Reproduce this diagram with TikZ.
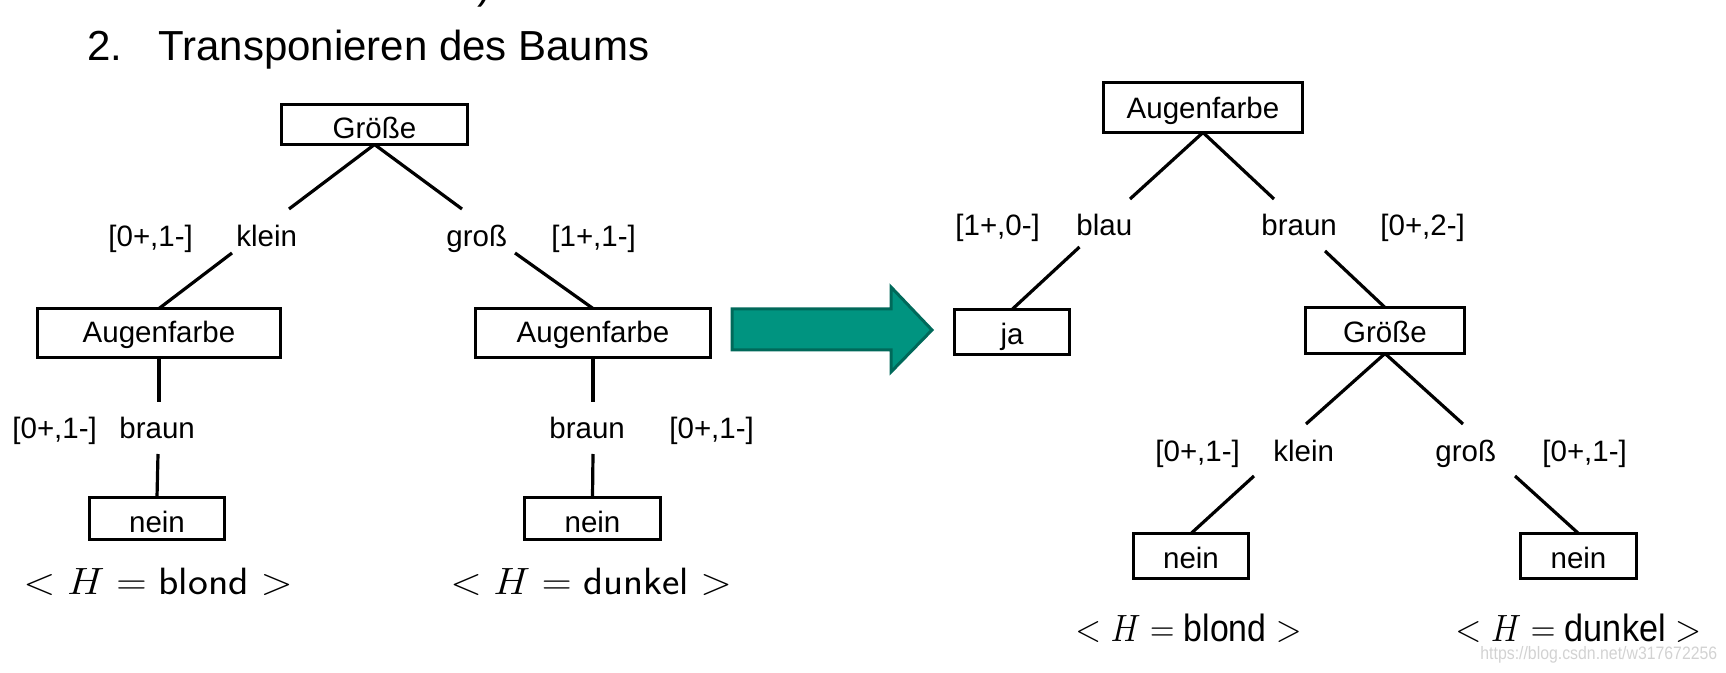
\RequirePackage{fix-cm}
\documentclass[tikz,border=0pt]{standalone}
\usepackage{fontspec}
\setmainfont{Liberation Sans}
\usepackage{graphicx}
\definecolor{arrowfill}{HTML}{009480}
\definecolor{arrowdraw}{HTML}{00695A}
\definecolor{wmgray}{HTML}{D2D2D2}
\begin{document}
\begin{tikzpicture}[x=0.5pt,y=-0.5pt,
  box/.style={draw, line width=1.7pt, inner sep=0pt, outer sep=0pt, anchor=south west, font=\fontsize{14.75}{17}\selectfont},
  lbl/.style={inner sep=0pt, anchor=base west, font=\fontsize{14.75}{17}\selectfont},
  edge/.style={line width=1.6pt},
  mth/.style={inner sep=0pt, anchor=base west, font=\fontsize{19}{22}\selectfont},
  ttl/.style={inner sep=0pt, anchor=base west, font=\fontsize{21}{25}\selectfont}
]
\useasboundingbox (0,0) rectangle (1726,673);

% title
\node[ttl] (frag) at (477,-1) {)};
\node[ttl] (tnum) at (87,61) {2.};
\node[ttl] (ttext) at (158,61) {Transponieren des Baums};

% ---------- left trees ----------
\node[box, minimum width=93pt, text depth=2.75pt, text height=17.25pt] (gL) at (281.5,144.5) {Größe};
\node[box, minimum width=121.5pt, text depth=7.25pt, text height=17.25pt] (aL) at (37.5,357.5) {Augenfarbe};
\node[box, minimum width=117.5pt, text depth=7.25pt, text height=17.25pt] (aR) at (475.5,357.5) {Augenfarbe};
\node[box, minimum width=67.5pt, text depth=3.25pt, text height=17.75pt] (nL) at (89.5,539.5) {nein};
\node[box, minimum width=68pt, text depth=3.25pt, text height=17.75pt] (nR) at (524.5,539.5) {nein};

\node[lbl] (l1) at (108,247) {[0+,1-]};
\node[lbl] (l2) at (236,247) {klein};
\node[lbl] (l3) at (446,247) {groß};
\node[lbl] (l4) at (551,247) {[1+,1-]};
\node[lbl] (l5) at (12,439) {[0+,1-]};
\node[lbl] (l6) at (119,439) {braun};
\node[lbl] (l7) at (549,439) {braun};
\node[lbl] (l8) at (669,439) {[0+,1-]};

\coordinate (a1) at (289,209);
\coordinate (a2) at (232,253);
\coordinate (b1) at (462,209);
\coordinate (b2) at (515,253);
\coordinate (c1) at (159,402);
\coordinate (c2) at (158,454);
\coordinate (d1) at (593,402);
\coordinate (d2) at (593,454);

\draw[edge] (gL.south) -- (a1);
\draw[edge] (a2) -- (aL.north);
\draw[edge] (gL.south) -- (b1);
\draw[edge] (b2) -- (aR.north);
\draw[edge] (aL.south) -- (c1);
\draw[edge] (c2) -- (nL.north);
\draw[edge] (aR.south) -- (d1);
\draw[edge] (d2) -- (nR.north);

\node[mth] (m1) at (23,595) {\scalebox{1.11}[1]{$<H=\mathsf{blond}>$}};
\node[mth] (m2) at (450,595) {\scalebox{1.09}[1]{$<H=\mathsf{dunkel}>$}};

% ---------- arrow ----------
\draw[line width=1.5pt, draw=arrowdraw, fill=arrowfill, line join=miter]
  (732,309) -- (891,309) -- (891,287) -- (932,330) -- (891,372) -- (891,350) -- (732,350) -- cycle;

% ---------- right tree ----------
\node[box, minimum width=99.5pt, text depth=6.75pt, text height=18.25pt] (A) at (1103.5,132.5) {Augenfarbe};
\node[box, minimum width=57.5pt, text depth=4.75pt, text height=17.75pt] (ja) at (954.5,354.5) {ja};
\node[box, minimum width=79.5pt, text depth=5.25pt, text height=17.75pt] (G) at (1305.5,353.5) {Größe};
\node[box, minimum width=57.5pt, text depth=4.75pt, text height=17.75pt] (n1) at (1133.5,578.5) {nein};
\node[box, minimum width=58pt, text depth=4.75pt, text height=17.75pt] (n2) at (1520.5,578.5) {nein};

\node[lbl] (r1) at (955,236) {[1+,0-]};
\node[lbl] (r2) at (1076,236) {blau};
\node[lbl] (r3) at (1261,236) {braun};
\node[lbl] (r4) at (1380,236) {[0+,2-]};
\node[lbl] (r5) at (1155,462) {[0+,1-]};
\node[lbl] (r6) at (1273,462) {klein};
\node[lbl] (r7) at (1435,462) {groß};
\node[lbl] (r8) at (1542,462) {[0+,1-]};

\coordinate (e1) at (1130,199);
\coordinate (e2) at (1079.5,247);
\coordinate (f1) at (1274,199);
\coordinate (f2) at (1325,251);
\coordinate (g1) at (1306,424);
\coordinate (g2) at (1254,476);
\coordinate (h1) at (1463,424);
\coordinate (h2) at (1515,476);

\draw[edge] (A.south) -- (e1);
\draw[edge] (e2) -- (ja.north);
\draw[edge] (A.south) -- (f1);
\draw[edge] (f2) -- (G.north);
\draw[edge] (G.south) -- (g1);
\draw[edge] (g2) -- (n1.north);
\draw[edge] (G.south) -- (h1);
\draw[edge] (h2) -- (n2.north);

\node[mth] (m3) at (1075,642) {\scalebox{0.89}[1]{$<H=\mbox{blond}>$}};
\node[mth] (m4) at (1455,642) {\scalebox{0.9}[1]{$<H=\mbox{dunkel}>$}};

% watermark
\node[inner sep=0pt, anchor=base west, font=\fontsize{9}{11}\selectfont, text=wmgray] (wm) at (1480,660) {\scalebox{0.88}[1]{https://blog.csdn.net/w317672256}};
\end{tikzpicture}
\end{document}
